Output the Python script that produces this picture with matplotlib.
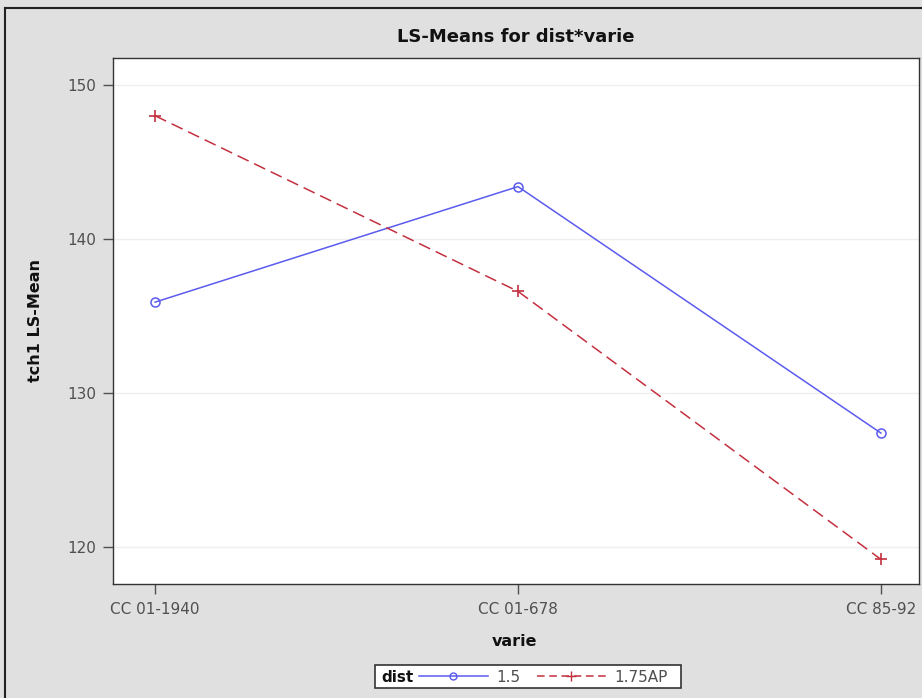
import matplotlib
matplotlib.use('Agg')
import matplotlib.pyplot as plt
from matplotlib.lines import Line2D
from matplotlib.patches import Rectangle

# data
varie = ['CC 01-1940', 'CC 01-678', 'CC 85-92']
dist_15 = [135.9, 143.4, 127.4]
dist_175ap = [148.0, 136.6, 119.2]
yticks = [120, 130, 140, 150]

W, H = 922, 698
bg = '#e0e0e0'
blue = '#5b5bee'
red = '#c4303f'

plt.rcParams['font.family'] = ['DejaVu Sans']

fig = plt.figure(figsize=(W / 100, H / 100), dpi=100)
fig.patch.set_facecolor(bg)

# outer frame (only left/top visible in the picture)
fig.add_artist(Line2D([5 / W, 5 / W], [0, 1 - 8 / H], color='#222222', lw=1.5, transform=fig.transFigure))
fig.add_artist(Line2D([5 / W, 1], [1 - 8 / H, 1 - 8 / H], color='#222222', lw=1.5, transform=fig.transFigure))

ax = fig.add_axes([113 / W, 1 - 584 / H, (919 - 113) / W, (584 - 58) / H])
ax.set_facecolor('white')
x = list(range(len(varie)))

ax.plot(x, dist_15, color=blue, lw=1.1, marker='o', ms=6.5, mfc='none', mec=blue, mew=1.1)
ax.plot(x, dist_175ap, color=red, lw=1.1, ls=(0, (8, 4)), marker='+', ms=8, mec=red, mew=1.2)

ax.set_xlim(-0.116, 2.105)
ax.set_ylim(117.6, 151.75)
ax.set_xticks(x)
ax.set_xticklabels(varie)
ax.set_yticks(yticks)
ax.grid(axis='y', color='#efefef', lw=1)
ax.set_axisbelow(True)
for s in ax.spines.values():
    s.set_color('#333333')
    s.set_linewidth(1)
ax.tick_params(colors='#505050', labelsize=11, length=7, width=1)
ax.tick_params(axis='x', pad=6)
ax.tick_params(axis='y', pad=5)

fig.text(516 / W, 1 - 37 / H, 'LS-Means for dist*varie', ha='center', va='center',
         fontsize=13, fontweight='bold', color='#111111')
fig.text(35 / W, 1 - 320 / H, 'tch1 LS-Mean', ha='center', va='center', rotation=90,
         fontsize=11.5, fontweight='bold', color='#111111')
fig.text(515 / W, 1 - 642 / H, 'varie', ha='center', va='center',
         fontsize=11.5, fontweight='bold', color='#111111')

# legend box with "dist" label
fig.add_artist(Rectangle((375 / W, 1 - 688 / H), (681 - 375) / W, (688 - 665) / H,
                         transform=fig.transFigure, facecolor='white', edgecolor='#333333', lw=1.2))
fig.text(381 / W, 1 - 677 / H, 'dist', ha='left', va='center', fontsize=11,
         fontweight='bold', color='#111111')
handles = [
    Line2D([], [], color=blue, lw=1.1, marker='o', ms=5, mfc='none', mec=blue),
    Line2D([], [], color=red, lw=1.1, ls=(0, (5, 3)), marker='+', ms=7, mec=red),
]
leg = fig.legend(handles, ['1.5', '1.75AP'], ncol=2, frameon=False, loc='center left',
                 bbox_to_anchor=(419 / W, 1 - 677 / H), fontsize=11, handlelength=4.5,
                 handletextpad=0.55, columnspacing=1.1, borderpad=0, borderaxespad=0)
for t in leg.get_texts():
    t.set_color('#505050')

fig.savefig('out.png', dpi=100, facecolor=bg)
